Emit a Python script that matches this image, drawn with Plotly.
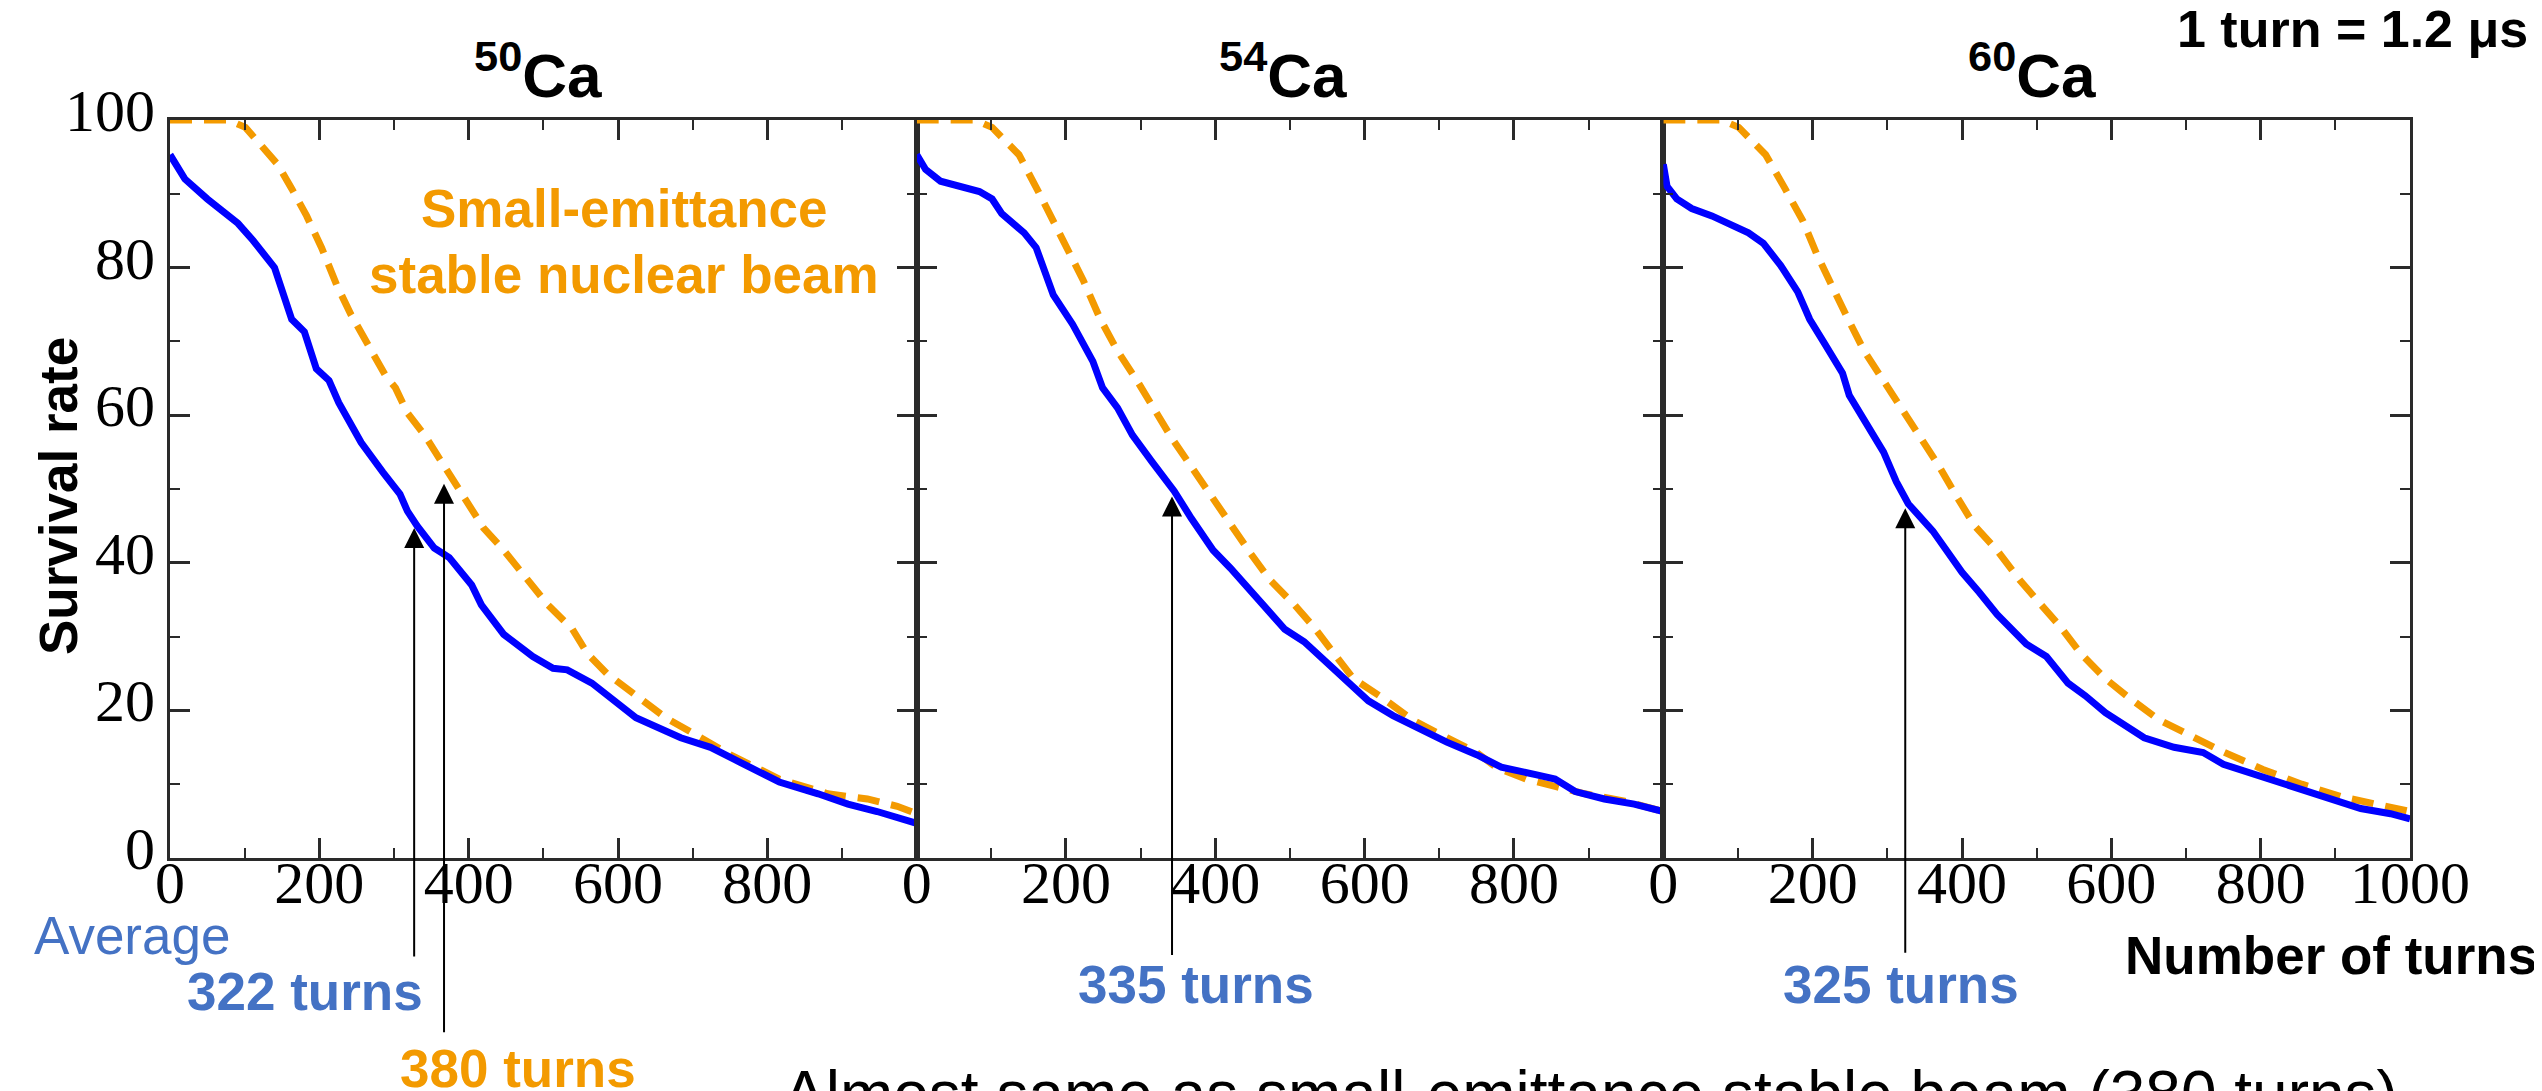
import plotly.graph_objects as go

# ---------------- data ----------------
panel_titles = ["<sup>50</sup>Ca", "<sup>54</sup>Ca", "<sup>60</sup>Ca"]

ca50_avg_x = [0, 20, 50, 91, 111, 140, 163, 180, 196, 213, 226, 256, 285, 308, 318, 331, 354, 374, 404, 417,
              447, 486, 513, 532, 565, 605, 624, 684, 724, 763, 816, 868, 908, 947, 1000]
ca50_avg_y = [95.3, 92, 89.3, 86, 83.7, 80, 73, 71.3, 66.3, 64.7, 61.7, 56.3, 52.3, 49.3, 47, 45, 42, 40.7, 37, 34.3,
              30.3, 27.3, 25.7, 25.5, 23.7, 20.7, 19, 16.3, 15, 13, 10.3, 8.7, 7.3, 6.3, 4.7]
ca50_stable_x = [0, 78, 101, 127, 144, 163, 183, 203, 223, 242, 262, 289, 302, 318, 341, 368, 391, 420, 447, 473,
                 506, 539, 559, 585, 624, 664, 704, 750, 816, 881, 934, 974, 1000]
ca50_stable_y = [100, 100, 99, 96, 94, 90.7, 87, 82.7, 77.7, 73.7, 70, 65.3, 63.7, 60.3, 57.3, 53, 49, 44.7, 41.7, 38.3,
                 34.3, 31, 27.7, 25, 22, 19, 16.7, 14, 10.7, 8.7, 8, 7, 6]

ca54_avg_x = [0, 12, 32, 58, 84, 101, 114, 144, 160, 183, 209, 236, 249, 269, 289, 315, 345, 368, 397, 420, 460,
              493, 519, 552, 578, 605, 638, 677, 710, 750, 783, 829, 855, 882, 921, 961, 1000]
ca54_avg_y = [95.3, 93.3, 91.7, 90.9, 90.3, 89.3, 87.3, 84.7, 82.7, 76.3, 72.3, 67.3, 63.7, 61, 57.3, 53.7, 49.7, 46,
              41.7, 39.3, 34.7, 31, 29.3, 26.3, 23.7, 21.3, 19.3, 17.3, 15.7, 14, 12.3, 11.3, 10.7, 9, 8, 7.3, 6.3]
ca54_stable_x = [0, 78, 101, 137, 163, 183, 203, 223, 246, 269, 295, 318, 341, 368, 394, 420, 447, 473, 506, 532,
                 559, 585, 624, 664, 710, 750, 776, 816, 855, 895, 948, 1000]
ca54_stable_y = [100, 100, 99, 95.3, 90.3, 86.3, 82.3, 78.3, 73, 68.7, 64.7, 60.7, 57, 53, 49, 45.3, 41.3, 37.7, 34.3,
                 31.3, 27.7, 24.3, 21.7, 18.7, 16.3, 14.3, 12.3, 10.7, 9.7, 8.7, 7.7, 6.3]

ca60_avg_x = [0, 5, 18, 38, 65, 91, 114, 134, 157, 180, 196, 216, 240, 249, 275, 295, 312, 328, 361, 400, 423, 447,
              486, 513, 542, 565, 592, 618, 644, 684, 723, 750, 803, 842, 895, 934, 974, 1000]
ca60_avg_y = [94, 91, 89.3, 88, 87, 85.7, 84.7, 83.3, 80.3, 76.7, 73, 69.7, 65.7, 62.7, 58.3, 55, 51, 48, 44.3, 38.7,
              36, 33, 29, 27.3, 23.7, 22, 19.7, 18, 16.3, 15, 14.3, 12.7, 11, 9.7, 8, 6.7, 6, 5.3]
ca60_stable_x = [0, 78, 101, 137, 163, 187, 206, 226, 246, 269, 295, 318, 341, 368, 391, 417, 447, 477, 506, 532,
                 559, 592, 624, 664, 704, 743, 803, 855, 908, 954, 1000]
ca60_stable_y = [100, 100, 99, 95.3, 90.7, 86.3, 81.7, 77.3, 73.3, 68.7, 64.7, 61, 57.3, 53.3, 49.3, 45, 41.7, 37.7,
                 34.3, 31.3, 27.7, 24.3, 21.7, 18.7, 16.7, 14.7, 12, 10, 8.3, 7.3, 6.3]

# arrows: panel index, x (turns), tip (survival rate)
arrow_panel = [0, 0, 1, 2]
arrow_x = [327, 367, 342, 324]
arrow_tip = [44.7, 50.7, 49.0, 47.4]

x_tickvals = [[0, 200, 400, 600, 800], [0, 200, 400, 600, 800], [0, 200, 400, 600, 800, 1000]]
y_tickvals = [0, 20, 40, 60, 80, 100]

# ---------------- styling ----------------
BLUE = "#0000FF"
ORANGE = "#F39A00"
TEXT_BLUE = "#4472C4"
AXIS = "#2a2a2a"
W, H = 2542, 1091
ML, MR, MT, MB = 162, 140, 112, 241
PW, PH = W - ML - MR, H - MT - MB


def px(xp):
    return (xp - ML) / PW


def py(yp):
    return (H - MB - yp) / PH


avg = [(ca50_avg_x, ca50_avg_y), (ca54_avg_x, ca54_avg_y), (ca60_avg_x, ca60_avg_y)]
stable = [(ca50_stable_x, ca50_stable_y), (ca54_stable_x, ca54_stable_y), (ca60_stable_x, ca60_stable_y)]

fig = go.Figure()
for i in range(3):
    xa = "x" if i == 0 else f"x{i+1}"
    ya = "y" if i == 0 else f"y{i+1}"
    fig.add_trace(go.Scatter(x=stable[i][0], y=stable[i][1], mode="lines", xaxis=xa, yaxis=ya,
                             line=dict(color=ORANGE, width=7, dash="22px,12px"), showlegend=False))
    fig.add_trace(go.Scatter(x=avg[i][0], y=avg[i][1], mode="lines", xaxis=xa, yaxis=ya,
                             line=dict(color=BLUE, width=7), showlegend=False))

tickfont = dict(family="Liberation Serif", size=60, color="black")
layout = dict(width=W, height=H, margin=dict(l=ML, r=MR, t=MT, b=MB),
              paper_bgcolor="white", plot_bgcolor="white", showlegend=False)
for i in range(3):
    xk = "xaxis" if i == 0 else f"xaxis{i+1}"
    yk = "yaxis" if i == 0 else f"yaxis{i+1}"
    anchor_y = "y" if i == 0 else f"y{i+1}"
    anchor_x = "x" if i == 0 else f"x{i+1}"
    layout[xk] = dict(domain=[i / 3, (i + 1) / 3], range=[0, 1000], anchor=anchor_y,
                      tickvals=x_tickvals[i], ticks="inside", ticklen=20, tickwidth=3, tickcolor=AXIS,
                      minor=dict(ticks="inside", ticklen=10, tickwidth=2, tickcolor=AXIS, dtick=100, tick0=0),
                      showline=True, linewidth=3, linecolor=AXIS, mirror="ticks", showgrid=False,
                      zeroline=False, tickfont=tickfont, ticklabelstandoff=-30)
    layout[yk] = dict(domain=[0, 1], range=[0, 100], anchor=anchor_x,
                      tickvals=y_tickvals, ticks="inside", ticklen=20, tickwidth=3, tickcolor=AXIS,
                      minor=dict(ticks="inside", ticklen=10, tickwidth=2, tickcolor=AXIS, dtick=10, tick0=0),
                      showline=True, linewidth=3, linecolor=AXIS, mirror="ticks", showgrid=False,
                      zeroline=False, tickfont=tickfont, showticklabels=(i == 0), ticklabelshift=-10)
fig.update_layout(**layout)

ann = []
sans = "Liberation Sans"
# panel titles
title_cx = [530, 1275, 2024]
for i in range(3):
    ann.append(dict(text=f"<b>{panel_titles[i]}</b>", x=px(title_cx[i]), y=py(104), xref="paper", yref="paper",
                    xanchor="center", yanchor="bottom", showarrow=False,
                    font=dict(family=sans, size=62, color="black")))
ann.append(dict(text="<b>1 turn = 1.2 μs</b>", x=px(2522), y=py(21), xref="paper", yref="paper",
                xanchor="right", yanchor="middle", showarrow=False, font=dict(family=sans, size=52, color="black")))
ann.append(dict(text="<b>Survival rate</b>", x=px(50), y=py(488), xref="paper", yref="paper", textangle=-90,
                xanchor="center", yanchor="middle", showarrow=False, font=dict(family=sans, size=53, color="black")))
ann.append(dict(text="<b>Small-emittance</b>", x=px(616), y=py(200), xref="paper", yref="paper",
                xanchor="center", yanchor="middle", showarrow=False, font=dict(family=sans, size=53, color=ORANGE)))
ann.append(dict(text="<b>stable nuclear beam</b>", x=px(616), y=py(266), xref="paper", yref="paper",
                xanchor="center", yanchor="middle", showarrow=False, font=dict(family=sans, size=53, color=ORANGE)))
ann.append(dict(text="<b>Number of turns</b>", x=px(2531), y=py(947), xref="paper", yref="paper",
                xanchor="right", yanchor="middle", showarrow=False, font=dict(family=sans, size=53, color="black")))
ann.append(dict(text="Average", x=px(24), y=py(927), xref="paper", yref="paper",
                xanchor="left", yanchor="middle", showarrow=False, font=dict(family=sans, size=53, color=TEXT_BLUE)))
turn_labels = [("322 turns", 297, 983, TEXT_BLUE), ("380 turns", 510, 1060, ORANGE),
               ("335 turns", 1188, 976, TEXT_BLUE), ("325 turns", 1893, 976, TEXT_BLUE)]
for t, cx, cy, col in turn_labels:
    ann.append(dict(text=f"<b>{t}</b>", x=px(cx), y=py(cy), xref="paper", yref="paper",
                    xanchor="center", yanchor="middle", showarrow=False, font=dict(family=sans, size=53, color=col)))
ann.append(dict(text="Almost same as small-emittance stable beam (380 turns)", x=px(773), y=py(1086),
                xref="paper", yref="paper", xanchor="left", yanchor="middle", showarrow=False,
                font=dict(family=sans, size=64, color="black")))

# arrows
arrow_tail_px = [430, 550, 460, 446]
for k in range(4):
    p = arrow_panel[k]
    xa = "x" if p == 0 else f"x{p+1}"
    ya = "y" if p == 0 else f"y{p+1}"
    ann.append(dict(text="", x=arrow_x[k], y=arrow_tip[k], xref=xa, yref=ya, ax=0, ay=arrow_tail_px[k],
                    showarrow=True, arrowhead=2, arrowsize=2, arrowwidth=2, arrowcolor="black", standoff=0))

fig.update_layout(annotations=ann)
fig.write_html("out.html")
